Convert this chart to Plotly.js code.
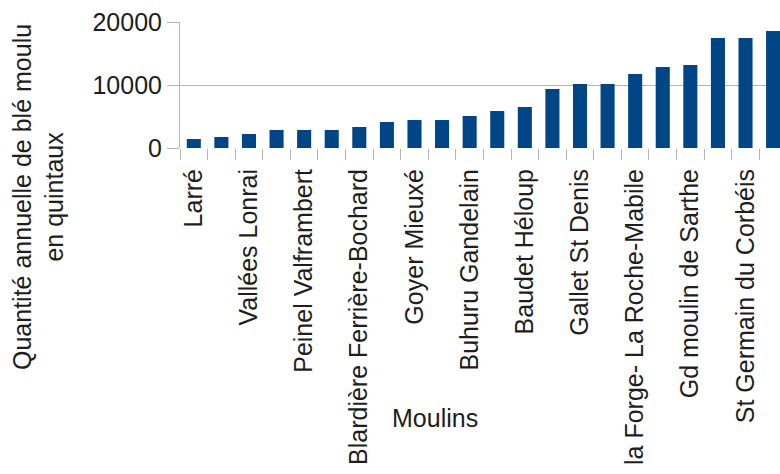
<!DOCTYPE html>
<html>
<head>
<meta charset="utf-8">
<script src="https://cdn.plot.ly/plotly-3.0.1.min.js"></script>
<style>html,body{margin:0;padding:0;background:#fff;}#chart{width:780px;height:474px;}</style>
</head>
<body>
<div id="chart"></div>
<script>
// Moulins (index positions 0..21), only even ones labelled on the axis
const moulinIndex = [0,1,2,3,4,5,6,7,8,9,10,11,12,13,14,15,16,17,18,19,20,21];
const quantites = [1430, 1750, 2220, 2860, 2860, 2860, 3330, 4130, 4440, 4440, 5080,
                   5870, 6510, 9370, 10160, 10160, 11750, 12860, 13170, 17460, 17460, 18570];
const labelIndex = [0,2,4,6,8,10,12,14,16,18,20];
const labelText = ["Larré", "Vallées Lonrai", "Peinel Valframbert", "Blardière Ferrière-Bochard",
                   "Goyer Mieuxé", "Buhuru Gandelain", "Baudet Héloup", "Gallet St Denis",
                   "la Forge- La Roche-Mabile", "Gd moulin de Sarthe", "St Germain du Corbéis"];
const yTicks = [0, 10000, 20000];
const yTitle = "Quantité annuelle de blé moulu<br>en quintaux";
const xTitle = "Moulins";

const FONT = "'Liberation Sans', Arial, sans-serif";
const TXT = "#1e1e1e";
const GRID = "#b3b3b3";
const FS = 25;

const data = [{
  type: "bar",
  x: moulinIndex,
  y: quantites,
  marker: {color: "#004586", line: {width: 0}},
  hoverinfo: "skip"
}];

const layout = {
  width: 780, height: 474,
  margin: {l: 180, r: 0, t: 22, b: 326, pad: 0},
  paper_bgcolor: "#ffffff", plot_bgcolor: "#ffffff",
  showlegend: false,
  bargap: 0.49,
  font: {family: FONT, color: TXT, size: FS},
  xaxis: {
    type: "linear",
    range: [-0.5, 21.25],
    tickmode: "array", tickvals: labelIndex, ticktext: labelText,
    tickangle: -90,
    ticks: "outside", ticklen: 10, tickcolor: "rgba(0,0,0,0)",
    tickfont: {family: FONT, color: TXT, size: FS},
    showgrid: false, zeroline: false,
    showline: false,
    minor: {tick0: -0.5, dtick: 1, ticks: "outside", ticklen: 11, tickcolor: GRID, tickwidth: 1, showgrid: false},
    fixedrange: true
  },
  yaxis: {
    range: [0, 20000],
    tickmode: "array", tickvals: yTicks, ticktext: yTicks.map(String),
    ticks: "outside", ticklen: 12, tickcolor: GRID, tickwidth: 1,
    tickfont: {family: FONT, color: TXT, size: FS},
    showgrid: true, gridcolor: GRID, gridwidth: 1,
    zeroline: false,
    showline: true, linecolor: GRID, linewidth: 1,
    fixedrange: true
  },
  annotations: [
    {text: yTitle, xref: "paper", yref: "paper", x: -0.2367, y: -0.389,
     xanchor: "center", yanchor: "middle", textangle: -90, showarrow: false,
     font: {family: FONT, color: TXT, size: FS}},
    {text: xTitle, xref: "paper", yref: "paper", x: 0.4245, y: -2.143,
     xanchor: "center", yanchor: "middle", showarrow: false,
     font: {family: FONT, color: TXT, size: FS}}
  ]
};

Plotly.newPlot("chart", data, layout, {displayModeBar: false, staticPlot: true});
</script>
</body>
</html>
